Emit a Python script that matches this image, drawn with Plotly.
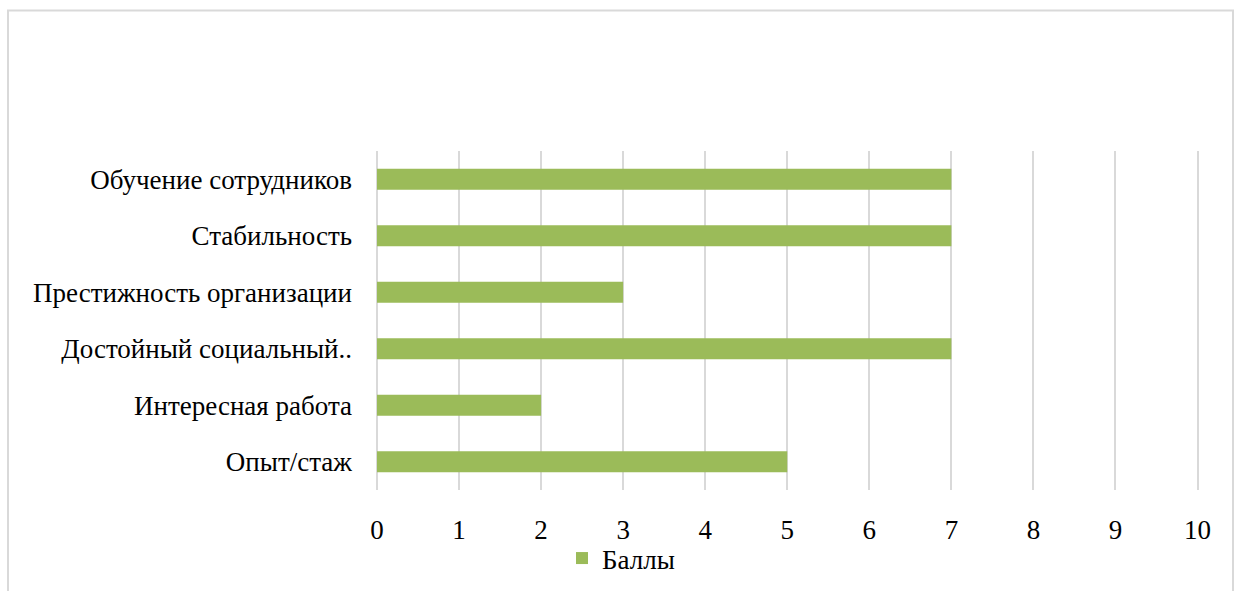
import plotly.graph_objects as go

# Factors (bottom to top) and their scores
factors = [
    "Опыт/стаж",
    "Интересная работа",
    "Достойный социальный..",
    "Престижность организации",
    "Стабильность",
    "Обучение сотрудников",
]
scores = [5, 2, 7, 3, 7, 7]
series_name = "Баллы"
x_ticks = list(range(0, 11))

BAR_COLOR = "#9bbb59"
GRID_COLOR = "#d9d9d9"
FONT = "'Times New Roman', 'Liberation Serif', serif"

W, H = 1240, 591
L, R, T, B = 377, 40, 151, 101
plot_w = W - L - R
plot_h = H - T - B


def px_to_paper_x(px):
    return (px - L) / plot_w


def px_to_paper_y(py):
    return (H - B - py) / plot_h


fig = go.Figure(
    go.Bar(
        x=scores,
        y=factors,
        orientation="h",
        name=series_name,
        marker=dict(color=BAR_COLOR, line=dict(width=0)),
        width=0.37,
        showlegend=True,
    )
)

# outer chart frame
fig.add_shape(
    type="rect",
    xref="paper", yref="paper",
    x0=px_to_paper_x(8), x1=px_to_paper_x(1233),
    y0=px_to_paper_y(620), y1=px_to_paper_y(10.5),
    line=dict(color=GRID_COLOR, width=2),
    fillcolor="rgba(0,0,0,0)",
    layer="below",
)

fig.update_layout(
    width=W,
    height=H,
    margin=dict(l=L, r=R, t=T, b=B, pad=0, autoexpand=False),
    paper_bgcolor="white",
    plot_bgcolor="white",
    font=dict(family=FONT, size=26, color="#000000"),
    xaxis=dict(
        range=[0, 10.03],
        tickvals=x_ticks,
        ticktext=[str(v) for v in x_ticks],
        showgrid=True,
        gridcolor=GRID_COLOR,
        gridwidth=2,
        zeroline=True,
        zerolinecolor=GRID_COLOR,
        zerolinewidth=2,
        showline=False,
        ticks="",
        ticklabelstandoff=21,
        tickfont=dict(family=FONT, size=27),
        fixedrange=True,
    ),
    yaxis=dict(
        range=[-0.5, 5.5],
        showgrid=False,
        zeroline=False,
        showline=False,
        ticks="",
        ticklabelstandoff=24,
        tickfont=dict(family=FONT, size=27),
        fixedrange=True,
    ),
    legend=dict(
        orientation="h",
        x=px_to_paper_x(562),
        xanchor="left",
        y=px_to_paper_y(534),
        yanchor="top",
        font=dict(family=FONT, size=27),
        bgcolor="rgba(0,0,0,0)",
        itemwidth=30,
    ),
    bargap=0.63,
)

fig.write_html("out.html")
